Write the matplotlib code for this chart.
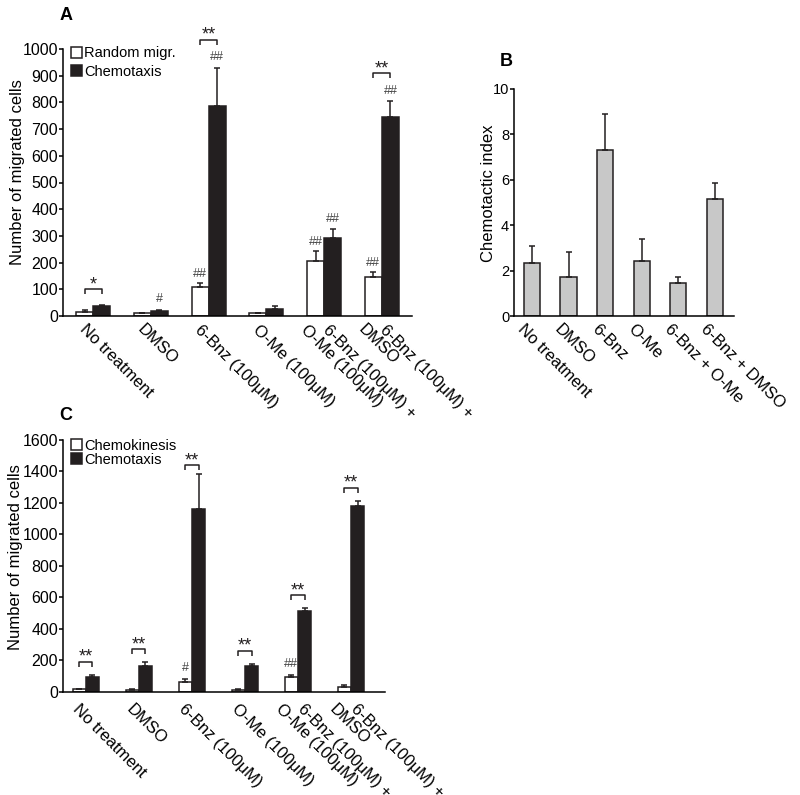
import matplotlib
matplotlib.use("Agg")
import matplotlib.pyplot as plt
import matplotlib.transforms as mtransforms
from matplotlib.patches import Patch
import numpy as np

plt.rcParams['font.family'] = ['Liberation Sans', 'DejaVu Sans']

# ---------------- data ----------------
cat_A = ["No treatment", "DMSO", "6-Bnz (100μM)", "O-Me (100μM)",
         ["6-Bnz (100μM) +", "O-Me (100μM)"], ["6-Bnz (100μM) +", "DMSO"]]
random_migr = [16, 10, 107, 10, 206, 146]
random_err = [5, 2, 15, 2, 38, 18]
chemotaxis_A = [38, 20, 787, 25, 294, 745]
chemotaxis_A_err = [5, 3, 142, 12, 31, 59]
hash_white_A = ["", "", "##", "", "##", "##"]
hash_black_A = ["", "#", "##", "", "##", "##"]
stars_A = ["*", "", "**", "", "", "**"]
bracket_A = [100, None, 1035, None, None, 910]

cat_B = ["No treatment", "DMSO", "6-Bnz", "O-Me", "6-Bnz + O-Me", "6-Bnz + DMSO"]
chemo_index = [2.32, 1.74, 7.32, 2.44, 1.44, 5.15]
chemo_index_err = [0.78, 1.07, 1.58, 0.96, 0.30, 0.73]

cat_C = cat_A
chemokinesis = [15, 12, 62, 12, 90, 31]
chemokinesis_err = [3, 3, 15, 3, 13, 10]
chemotaxis_C = [95, 162, 1161, 164, 514, 1182]
chemotaxis_C_err = [10, 28, 223, 9, 15, 30]
hash_white_C = ["", "", "#", "", "##", ""]
stars_C = ["**", "**", "**", "**", "**", "**"]
bracket_C = [190, 268, 1441, 260, 614, 1296]

BLACK = '#231f20'
LW = 1.1

fig = plt.figure(figsize=(8, 7.95), dpi=100)
W, H = 800, 795

def axes_px(l, r, t, b):
    return fig.add_axes([l / W, 1 - b / H, (r - l) / W, (b - t) / H])

def style(ax, ysize):
    for s in ['top', 'right']:
        ax.spines[s].set_visible(False)
    for s in ['left', 'bottom']:
        ax.spines[s].set_linewidth(LW)
    ax.tick_params(axis='y', direction='out', length=3, width=LW, pad=0.5,
                   labelsize=ysize)
    ax.tick_params(axis='x', length=0)
    ax.set_xticks([])

def xlabels(ax, cats, dy, d1, d2_first, d2_second):
    base = ax.get_xaxis_transform()
    for i, c in enumerate(cats):
        if isinstance(c, list):
            lines = [(c[0], d2_first), (c[1], d2_second)]
        else:
            lines = [(c, d1)]
        for txt, dx in lines:
            tr = mtransforms.offset_copy(base, fig=fig, x=dx, y=dy, units='dots')
            ax.text(i, 0, txt, transform=tr, rotation=-45, rotation_mode='anchor',
                    ha='left', va='top', fontsize=12, clip_on=False)

ekw = dict(ecolor=BLACK, elinewidth=LW, capsize=2.2, capthick=LW)

def grouped(ax, w, v1, e1, v2, e2):
    x = np.arange(len(v1))
    z = np.zeros(len(v1))
    ax.bar(x - w / 2, v1, w, color='white', edgecolor=BLACK, linewidth=LW,
           yerr=[z, e1], error_kw=ekw, zorder=2)
    ax.bar(x + w / 2, v2, w, color=BLACK, edgecolor=BLACK, linewidth=LW,
           yerr=[z, e2], error_kw=ekw, zorder=2)

def bracket(ax, i, w, ytop, tip, stars):
    xs = [i - w / 2, i - w / 2, i + w / 2, i + w / 2]
    ys = [ytop - tip, ytop, ytop, ytop - tip]
    ax.plot(xs, ys, color=BLACK, lw=LW, clip_on=False, solid_capstyle='butt')
    ax.text(i, ytop, stars, ha='center', va='baseline', fontsize=13,
            color=BLACK, clip_on=False)

# ---------------- Panel A ----------------
axA = axes_px(63, 412, 49, 316)
wA = 0.295
grouped(axA, wA, random_migr, random_err, chemotaxis_A, chemotaxis_A_err)
axA.set_xlim(-0.52, 5.52)
axA.set_ylim(0, 1000)
axA.set_yticks(range(0, 1001, 100))
style(axA, 11.5)
axA.set_ylabel("Number of migrated cells", fontsize=12)
axA.yaxis.set_label_coords(-0.109, 0.539)
for i in range(6):
    if hash_white_A[i]:
        axA.text(i - wA / 2, random_migr[i] + random_err[i] + 35, hash_white_A[i],
                 ha='center', va='center', fontsize=9, color='#444444', clip_on=False)
    if hash_black_A[i]:
        axA.text(i + wA / 2, chemotaxis_A[i] + chemotaxis_A_err[i] + 40, hash_black_A[i],
                 ha='center', va='center', fontsize=9, color='#444444', clip_on=False)
    if stars_A[i]:
        bracket(axA, i, wA, bracket_A[i], 19, stars_A[i])
xlabels(axA, cat_A, -6, -6, 6, -16)
axA.legend([Patch(facecolor='white', edgecolor=BLACK, linewidth=LW),
            Patch(facecolor=BLACK, edgecolor=BLACK, linewidth=LW)],
           ["Random migr.", "Chemotaxis"], loc='upper left',
           bbox_to_anchor=(0.022, 1.01), frameon=False, fontsize=10.5,
           borderpad=0, borderaxespad=0, handletextpad=0.15,
           handlelength=0.75, handleheight=0.75, labelspacing=0.3)

# ---------------- Panel B ----------------
axB = axes_px(514, 734, 89, 316)
xB = np.arange(len(chemo_index))
axB.bar(xB, chemo_index, 0.44, color='#c8c8c8', edgecolor=BLACK, linewidth=LW,
        yerr=[np.zeros(len(xB)), chemo_index_err], error_kw=ekw, zorder=2)
axB.set_xlim(-0.49, 5.52)
axB.set_ylim(0, 10)
axB.set_yticks(range(0, 11, 2))
style(axB, 10.5)
axB.set_ylabel("Chemotactic index", fontsize=12)
axB.yaxis.set_label_coords(-0.082, 0.542)
xlabels(axB, cat_B, -6, -6, 0, 0)

# ---------------- Panel C ----------------
axC = axes_px(63, 385, 440, 691.5)
wC = 0.25
grouped(axC, wC, chemokinesis, chemokinesis_err, chemotaxis_C, chemotaxis_C_err)
axC.set_xlim(-0.43, 5.64)
axC.set_ylim(0, 1600)
axC.set_yticks(range(0, 1601, 200))
style(axC, 11.5)
axC.set_ylabel("Number of migrated cells", fontsize=12)
axC.yaxis.set_label_coords(-0.125, 0.535)
for i in range(6):
    if hash_white_C[i]:
        axC.text(i - wC / 2, chemokinesis[i] + chemokinesis_err[i] + 72, hash_white_C[i],
                 ha='center', va='center', fontsize=9, color='#444444', clip_on=False)
    bracket(axC, i, wC, bracket_C[i], 32, stars_C[i])
xlabels(axC, cat_C, -10, -5, 8, -14)
axC.legend([Patch(facecolor='white', edgecolor=BLACK, linewidth=LW),
            Patch(facecolor=BLACK, edgecolor=BLACK, linewidth=LW)],
           ["Chemokinesis", "Chemotaxis"], loc='upper left',
           bbox_to_anchor=(0.025, 1.005), frameon=False, fontsize=10.5,
           borderpad=0, borderaxespad=0, handletextpad=0.15,
           handlelength=0.75, handleheight=0.75, labelspacing=0.0)

# ---------------- panel letters ----------------
fig.text(60 / W, 1 - 20 / H, "A", fontsize=13, fontweight='bold', ha='left', va='baseline')
fig.text(500 / W, 1 - 66 / H, "B", fontsize=13, fontweight='bold', ha='left', va='baseline')
fig.text(59 / W, 1 - 420 / H, "C", fontsize=13, fontweight='bold', ha='left', va='baseline')

fig.savefig("out.png", dpi=100)
